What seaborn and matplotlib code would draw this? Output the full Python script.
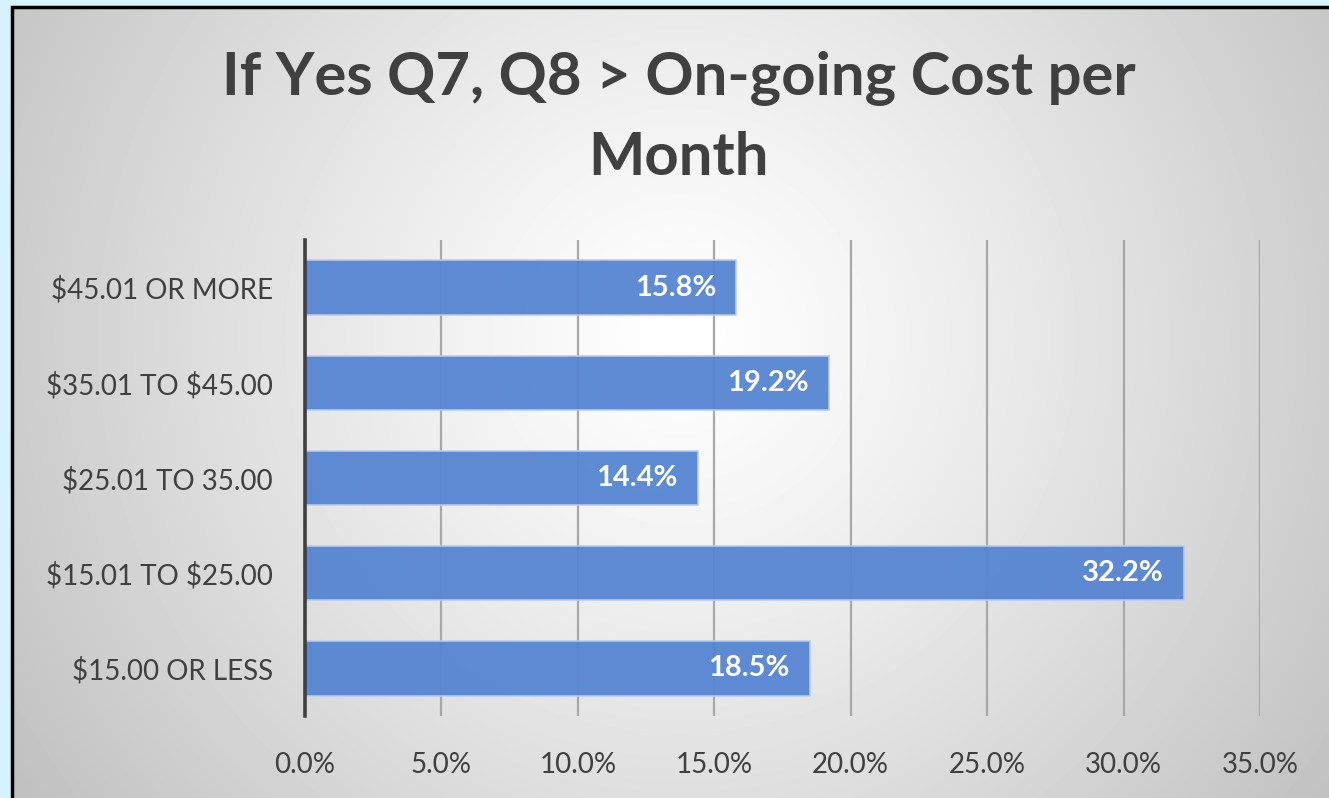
import numpy as np
import pandas as pd
import seaborn as sns
import matplotlib.pyplot as plt
from matplotlib.patches import Rectangle
from matplotlib.ticker import PercentFormatter

# Chart data
categories = ['$45.01 OR MORE', '$35.01 TO $45.00', '$25.01 TO 35.00',
              '$15.01 TO $25.00', '$15.00 OR LESS']
shares = [15.8, 19.2, 14.4, 32.2, 18.5]
x_ticks = [0, 5, 10, 15, 20, 25, 30, 35]
title = 'If Yes Q7, Q8 > On-going Cost per\nMonth'

df = pd.DataFrame({'cost': categories, 'share': shares})

W, H = 1329, 798
plt.rcParams['font.family'] = ['Lato', 'DejaVu Sans']
plt.rcParams['text.parse_math'] = False
fig = plt.figure(figsize=(W / 100, H / 100), dpi=100)
fig.patch.set_facecolor('#D6F2FD')

# Radial gradient background inside the black frame
fx0, fy_top = 12, 7
bg = fig.add_axes([fx0 / W, 0, 1 - fx0 / W, 1 - fy_top / H], zorder=0)
gw, gh = W - fx0, H - fy_top
yy, xx = np.mgrid[0:gh, 0:gw]
cx, cy = 668, 330
r = np.sqrt((xx - cx) ** 2 + (yy - cy) ** 2)
r = r / r.max()
shade = 1.0 - 0.25 * np.clip(r, 0, 1) ** 1.2
bg.imshow(shade, cmap='gray', vmin=0, vmax=1, aspect='auto',
          extent=[0, gw, gh, 0], interpolation='bilinear')
bg.set_axis_off()
fig.patches.append(Rectangle((fx0 / W, -0.05), 1.1, 1.05 - fy_top / H,
                             transform=fig.transFigure, fill=False,
                             edgecolor='black', linewidth=2.5, zorder=5))

# Main chart
ax_l, ax_r, ax_t, ax_b = 305, 1260, 240, 716
ax = fig.add_axes([ax_l / W, (H - ax_b) / H, (ax_r - ax_l) / W, (ax_b - ax_t) / H],
                  zorder=2)
ax.patch.set_alpha(0)

sns.barplot(data=df, y='cost', x='share', orient='h', ax=ax,
            color='#5585D2', width=0.57, edgecolor='#B8CCEC', linewidth=1.2,
            alpha=0.95, saturation=1, zorder=3)

ax.set_xlim(0, 35)
ax.set_xticks(x_ticks)
ax.xaxis.set_major_formatter(PercentFormatter(decimals=1))
ax.grid(axis='x', color='#A8A8A8', linewidth=1.6, zorder=1)
ax.set_axisbelow(True)
ax.set_xlabel('')
ax.set_ylabel('')
for s in ['top', 'right', 'bottom']:
    ax.spines[s].set_visible(False)
ax.spines['left'].set_color('#404040')
ax.spines['left'].set_linewidth(2.6)
ax.spines['left'].set_zorder(4)
ax.tick_params(axis='both', length=0, labelsize=20, colors='#404040')
ax.tick_params(axis='y', pad=23)
ax.tick_params(axis='x', pad=26)

for i, v in enumerate(shares):
    ax.annotate(f'{v:.1f}%', (v, i), xytext=(-20, 0), textcoords='offset pixels',
                ha='right', va='center', color='white', fontsize=21,
                fontweight='bold', zorder=5)

fig.text(679 / W, 1 - 118 / H, title, ha='center', va='center',
         fontsize=43, fontweight='bold', color='#404040', linespacing=1.58)

fig.savefig('out.png', dpi=100)
